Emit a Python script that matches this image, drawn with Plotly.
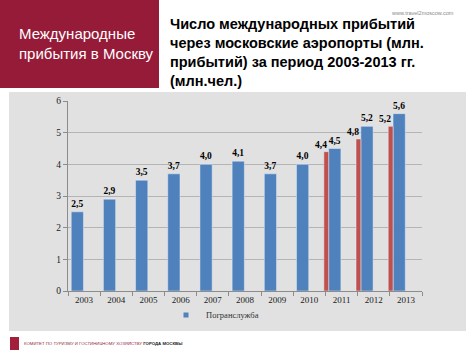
import plotly.graph_objects as go

years = ["2003", "2004", "2005", "2006", "2007", "2008", "2009", "2010", "2011", "2012", "2013"]
border_service = [2.5, 2.9, 3.5, 3.7, 4.0, 4.1, 3.7, 4.0, 4.5, 5.2, 5.6]
red_years = ["2011", "2012", "2013"]
red_values = [4.4, 4.8, 5.2]
y_ticks = [0, 1, 2, 3, 4, 5, 6]

W, H = 474, 355
L, R, T, B = 68, 422, 101, 291
PW, PH = R - L, B - T


def fx(px):
    return (px - L) / PW


def fy(py):
    return (B - py) / PH


def fmt(v):
    return "<b>" + f"{v:.1f}".replace(".", ",") + "</b>"


BLUE = "#4f81bd"
RED = "#c0504d"
CRIMSON = "#961b38"
SERIF = "Liberation Serif, Times New Roman, serif"
SANS = "Liberation Sans, Arial, sans-serif"

fig = go.Figure()
fig.add_trace(go.Bar(
    x=years, y=border_service, marker_color=BLUE, width=0.38, offset=-0.4,
    text=[fmt(v) for v in border_service], textposition="outside", textangle=0,
    constraintext="none",
    textfont=dict(family=SERIF, size=9.5, color="#000000"),
    showlegend=False, cliponaxis=False, name="Погранслужба",
))
fig.add_trace(go.Bar(
    x=red_years, y=red_values, marker_color=RED, width=0.15, offset=-0.55,
    showlegend=False, cliponaxis=False, name="",
))
# legend entry
fig.add_trace(go.Scatter(
    x=[None], y=[None], mode="markers", name="Погранслужба",
    marker=dict(symbol="square", size=5, color=BLUE), showlegend=True,
))

shapes = [
    dict(type="rect", xref="paper", yref="paper", x0=fx(9), x1=fx(466), y0=fy(331), y1=fy(92),
         fillcolor="#e1e1e1", line=dict(width=0), layer="below"),
    dict(type="rect", xref="paper", yref="paper", x0=fx(0), x1=fx(159), y0=fy(88), y1=fy(0),
         fillcolor=CRIMSON, line=dict(width=0), layer="below"),
    dict(type="rect", xref="paper", yref="paper", x0=fx(10), x1=fx(19), y0=fy(350), y1=fy(337),
         fillcolor="#a3203a", line=dict(width=0), layer="above"),
]

annotations = [
    dict(text="Международные<br>прибытия в Москву", xref="paper", yref="paper",
         x=fx(17), y=fy(44), xanchor="left", yanchor="middle", align="left", showarrow=False,
         font=dict(family=SANS, size=15, color="#ffffff")),
    dict(text="<b>Число международных прибытий<br>через московские аэропорты (млн.<br>прибытий) за период 2003-2013 гг.<br>(млн.чел.)</b>",
         xref="paper", yref="paper", x=fx(168), y=fy(52), xanchor="left", yanchor="middle",
         align="left", showarrow=False, font=dict(family=SANS, size=14.5, color="#000000")),
    dict(text="www.travel2moscow.com", xref="paper", yref="paper", x=fx(456), y=fy(13),
         xanchor="right", yanchor="middle", showarrow=False,
         font=dict(family=SANS, size=5.5, color="#8a8a8a")),
    dict(text="КОМИТЕТ ПО ТУРИЗМУ И ГОСТИНИЧНОМУ ХОЗЯЙСТВУ <b><span style='color:#222222'>ГОРОДА МОСКВЫ</span></b>",
         xref="paper", yref="paper", x=fx(22), y=fy(343), xanchor="left", yanchor="middle",
         showarrow=False, font=dict(family=SANS, size=4.3, color="#8f1f3c")),
]
for yr, v in zip(red_years, red_values):
    annotations.append(dict(
        text=fmt(v), x=years.index(yr), y=v, xref="x", yref="y",
        xanchor="right", yanchor="bottom", xshift=-13, showarrow=False,
        font=dict(family=SERIF, size=9.5, color="#000000"),
    ))

fig.update_layout(
    width=W, height=H,
    margin=dict(l=L, r=W - R, t=T, b=H - B, pad=0),
    paper_bgcolor="#ffffff", plot_bgcolor="rgba(0,0,0,0)",
    barmode="overlay",
    shapes=shapes, annotations=annotations,
    showlegend=True,
    legend=dict(orientation="h", x=fx(166), y=fy(315), xanchor="left", yanchor="middle",
                bgcolor="rgba(0,0,0,0)", font=dict(family=SERIF, size=8.5, color="#333333"),
                itemwidth=30),
    xaxis=dict(type="category", categoryorder="array", categoryarray=years,
               range=[-0.5, 10.5], showline=True, linecolor="#8c8c8c", linewidth=1,
               ticks="outside", tickson="boundaries", ticklen=4, tickcolor="#8c8c8c",
               tickfont=dict(family=SERIF, size=9, color="#222222"), showgrid=False),
    yaxis=dict(range=[0, 6], tickvals=y_ticks, showline=True, linecolor="#8c8c8c", linewidth=1,
               ticks="outside", ticklen=4, tickcolor="#8c8c8c",
               showgrid=True, gridcolor="#b4b4b4", gridwidth=1, zeroline=False,
               tickfont=dict(family=SERIF, size=9.5, color="#222222")),
)

fig.write_html("out.html", config={"displayModeBar": False},
               post_script="document.body.style.margin='0px';")
